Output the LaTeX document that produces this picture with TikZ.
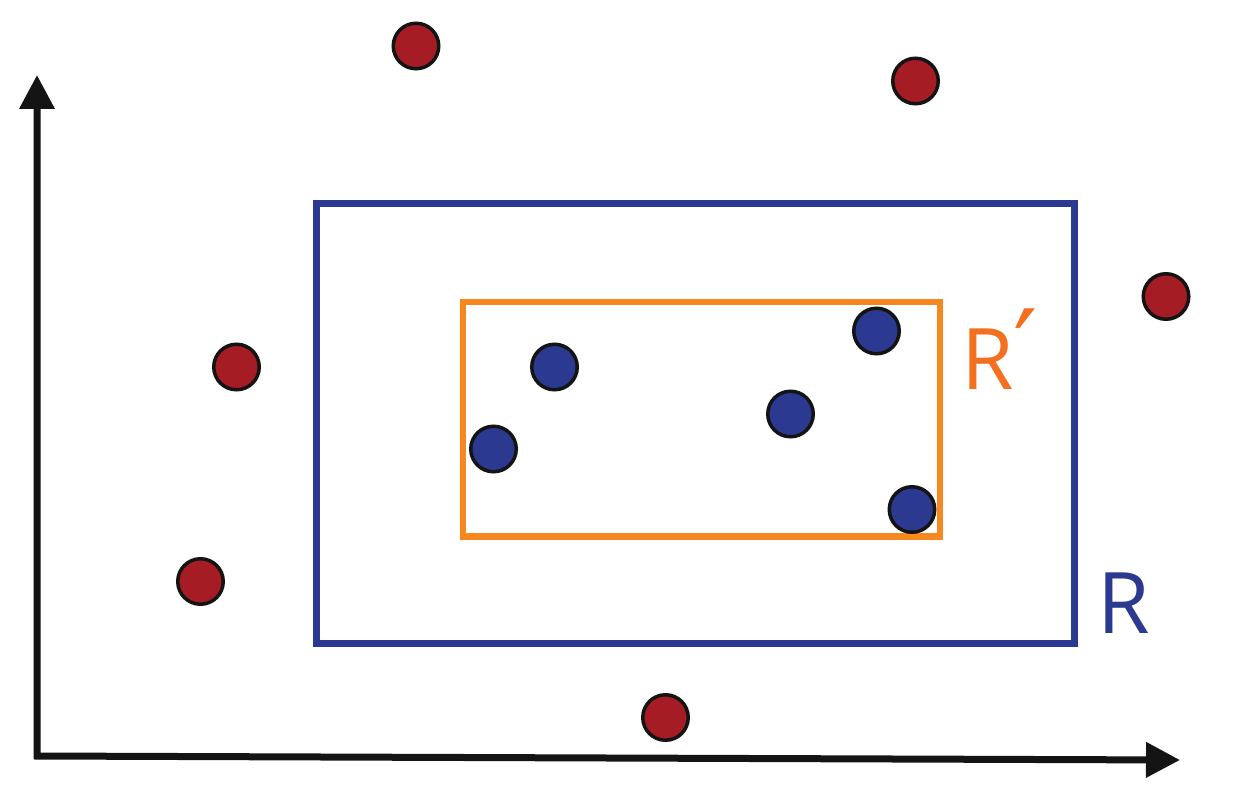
\documentclass[tikz,border=0pt]{standalone}
\usepackage{fontspec}
\setmainfont{Open Sans}
\newfontfamily\primefont{DejaVu Sans}
\usepackage{tikz}
\usepackage{xcolor}
\usetikzlibrary{arrows.meta}

\definecolor{dotred}{HTML}{A51C24}
\definecolor{rblue}{HTML}{2B3990}
\definecolor{rorange}{HTML}{F7881F}
\definecolor{labelorange}{HTML}{F37021}

\begin{document}
\begin{tikzpicture}[
        x=0.5pt, y=-0.5pt,
        dot/.style={circle, draw=black!92, line width=1.75pt, inner sep=0pt, minimum size=22.75pt},
        outdot/.style={dot, fill=dotred},
        indot/.style={dot, fill=rblue},
        axis/.style={line width=3.5pt, {Triangle[length=17pt, width=17pt]}-{Triangle[length=17pt, width=17pt]}},
        rlabel/.style={anchor=base west, inner sep=0pt, font=\fontsize{42.5pt}{42.5pt}\selectfont}
    ]
        \useasboundingbox (0,0) rectangle (1252,802);

        \coordinate (ytip) at (37,75);
        \coordinate (origin) at (37,756);
        \coordinate (xtip) at (1180,760);
        \draw[axis, black!92] (ytip) -- (origin) -- (xtip);

        \draw[rblue, line width=3.5pt] (316.5,203.5) rectangle (1074,643);
        \draw[rorange, line width=3.25pt] (463,302) rectangle (940,536.5);

        \node[rlabel, rblue] (R) at (1097,633) {R};
        \node[rlabel, labelorange] (Rprime) at (961,389) {R\raisebox{1pt}{\primefont\fontsize{54pt}{54pt}\selectfont ′}};

        % points outside R'
        \node[outdot] (p1) at (416,46) {};
        \node[outdot] (p2) at (915.5,81) {};
        \node[outdot] (p3) at (1166,296.5) {};
        \node[outdot] (p4) at (236.5,367) {};
        \node[outdot] (p5) at (200.5,581.5) {};
        \node[outdot] (p6) at (665.5,717.5) {};

        % points inside R'
        \node[indot] (q1) at (554.5,367) {};
        \node[indot] (q2) at (493.5,449) {};
        \node[indot] (q3) at (790.5,414) {};
        \node[indot] (q4) at (876.5,331) {};
        \node[indot] (q5) at (912,509.5) {};
    \end{tikzpicture}
\end{document}
